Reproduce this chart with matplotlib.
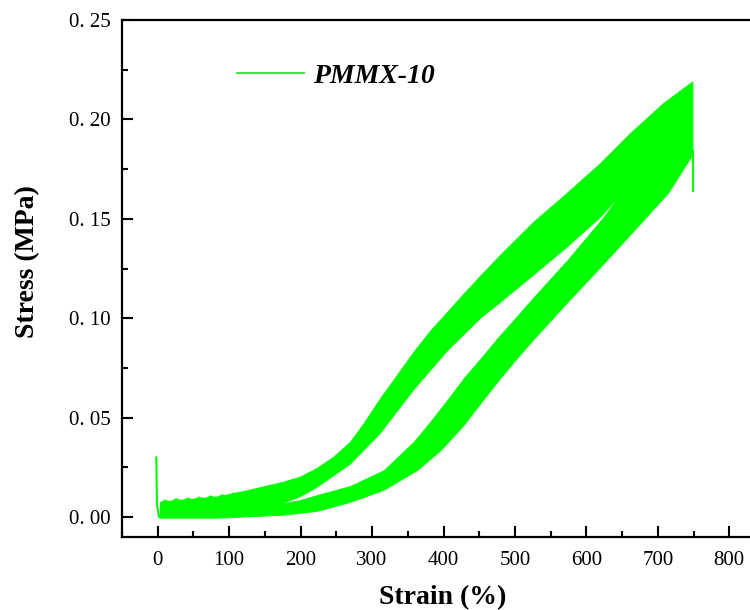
import numpy as np
import matplotlib
matplotlib.use('Agg')
from matplotlib import pyplot as plt
from matplotlib.lines import Line2D
import matplotlib.ticker as mticker

plt.rcParams['font.family'] = ['Liberation Serif', 'DejaVu Serif']

GREEN = '#00ff00'

# outer envelope of all cycles: loading edge (top) and unloading edge (bottom)
top_strain = [4, 36, 84, 130, 177, 200, 224, 247, 270, 289, 312, 336, 359, 382,
              406, 429, 453, 481, 527, 574, 621, 663, 709, 749]
top_stress = [0.0075, 0.0086, 0.0101, 0.0136, 0.0176, 0.0201, 0.0246, 0.0302, 0.0377,
              0.0470, 0.0595, 0.0715, 0.0830, 0.0935, 0.1030, 0.1122, 0.1215, 0.1320,
              0.1484, 0.1630, 0.1781, 0.1932, 0.2082, 0.2188]

bottom_strain = [749, 747, 715, 667, 621, 574, 527, 499, 476, 453, 429, 397, 364,
                 317, 270, 224, 177, 84, 4]
bottom_stress = [0.1836, 0.1811, 0.1630, 0.1440, 0.1260, 0.1080, 0.0895, 0.0780, 0.0680,
                 0.0575, 0.0463, 0.0337, 0.0236, 0.0136, 0.0075, 0.0030, 0.0010, -0.0005,
                 -0.0005]

# white gap between loading and unloading bands
gap_upper_strain = [177, 200, 224, 270, 312, 359, 406, 453, 481, 527, 574, 621, 642]
gap_upper_stress = [0.0070, 0.0101, 0.0150, 0.0265, 0.0420, 0.0640, 0.0835, 0.1001,
                    0.1081, 0.1217, 0.1358, 0.1509, 0.1595]
gap_lower_strain = [642, 621, 574, 527, 495, 476, 453, 429, 406, 382, 359, 317, 270, 224, 200]
gap_lower_stress = [0.1595, 0.1494, 0.1293, 0.1107, 0.0976, 0.0900, 0.0800, 0.0700,
                    0.0590, 0.0480, 0.0380, 0.0236, 0.0156, 0.0111, 0.0086]

# spikes at the start and at the turning point
start_strain = [-2, -1, 2]
start_stress = [0.030, 0.006, 0.0]
end_strain = [749, 749]
end_stress = [0.184, 0.164]

# ripple of the early loading cycles
ripple_strain = [4, 10, 18, 26, 34, 42, 50, 58, 66, 74, 82, 90, 98, 106, 114, 122,
                 130, 138, 146, 154, 162, 170, 178, 186, 194]
ripple_stress = [0.0065, 0.0085, 0.0072, 0.0092, 0.0078, 0.0095, 0.0082, 0.0100, 0.0087,
                 0.0106, 0.0092, 0.0112, 0.0099, 0.0120, 0.0108, 0.0128, 0.0117, 0.0138,
                 0.0128, 0.0150, 0.0140, 0.0163, 0.0155, 0.0180, 0.0172]

fig = plt.figure(figsize=(7.5, 6.1), dpi=100)
ax = fig.add_axes([122 / 750, 73 / 610, 643 / 750, 517 / 610])

ax.fill(top_strain + bottom_strain, top_stress + bottom_stress, color=GREEN, lw=0.8, ec=GREEN)
ax.fill(gap_upper_strain + gap_lower_strain, gap_upper_stress + gap_lower_stress,
        color='white', lw=0)
ax.plot(start_strain, start_stress, color=GREEN, lw=1.5)
ax.plot(end_strain, end_stress, color=GREEN, lw=1.5)
ax.plot(ripple_strain, ripple_stress, color=GREEN, lw=1.0)

ax.set_xlim(-50, 850)
ax.set_ylim(-0.01, 0.25)
ax.xaxis.set_major_locator(mticker.MultipleLocator(100))
ax.xaxis.set_minor_locator(mticker.MultipleLocator(50))
ax.yaxis.set_major_locator(mticker.MultipleLocator(0.05))
ax.yaxis.set_minor_locator(mticker.MultipleLocator(0.025))
ax.yaxis.set_major_formatter(mticker.FuncFormatter(lambda v, p: f'{v:.2f}'.replace('.', '. ')))

ax.tick_params(which='both', direction='in', width=1.5, top=False, right=False)
ax.tick_params(which='major', length=8)
ax.tick_params(which='minor', length=4)
ax.tick_params(axis='x', labelsize=15, pad=10)
ax.tick_params(axis='y', labelsize=15, pad=8)
for s in ['left', 'bottom', 'top']:
    ax.spines[s].set_linewidth(1.6)

fig.text(443 / 750, 1 - 598 / 610, 'Strain (%)', ha='center', va='center',
         fontsize=20, fontweight='bold')
fig.text(28 / 750, 1 - 262 / 610, 'Stress (MPa)', ha='center', va='center',
         rotation=90, fontsize=20, fontweight='bold')

handle = Line2D([], [], color='#33dd33', lw=1.3)
ax.legend([handle], ['PMMX-10'], loc='center left', frameon=False,
          bbox_to_anchor=(237 / 750, 1 - 76 / 610), bbox_transform=fig.transFigure,
          borderpad=0, borderaxespad=0, handlelength=2.4, handletextpad=0.35,
          prop={'size': 20, 'weight': 'bold', 'style': 'italic'})

fig.savefig('out.png', dpi=100)
